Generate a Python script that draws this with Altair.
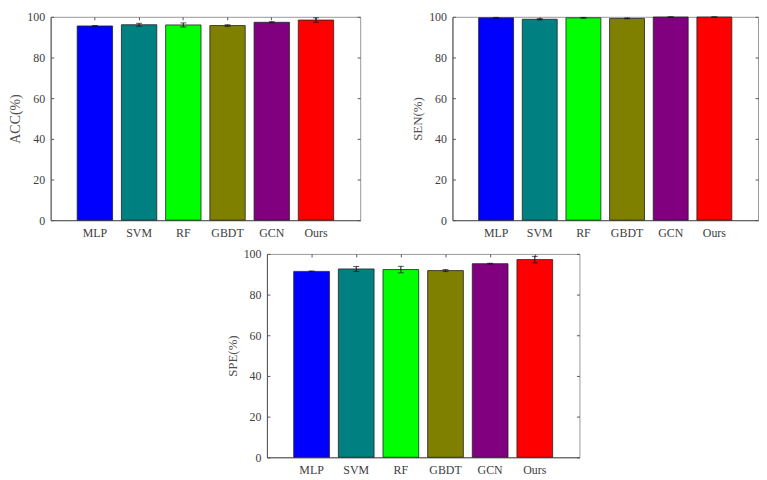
import altair as alt
import pandas as pd

methods = ["MLP", "SVM", "RF", "GBDT", "GCN", "Ours"]
colors = ["#0000FF", "#008080", "#00FF00", "#808000", "#800080", "#FF0000"]

acc_mean = [95.5, 96.1, 96.0, 95.7, 97.3, 98.4]
acc_err = [0.2, 0.7, 1.0, 0.4, 0.3, 1.1]
sen_mean = [99.5, 98.8, 99.5, 99.2, 99.9, 99.9]
sen_err = [0.2, 0.3, 0.2, 0.2, 0.1, 0.1]
spe_mean = [91.4, 92.6, 92.3, 91.8, 95.2, 97.2]
spe_err = [0.2, 1.2, 1.6, 0.5, 0.2, 1.6]

y_ticks = [0, 20, 40, 60, 80, 100]

FONT = "Liberation Serif"
TEXT = "#404040"
DOM = "#555555"


def panel(mean, err, title, tsize, W, H):
    df = pd.DataFrame({
        "method": methods,
        "v": mean,
        "lo": [m - e for m, e in zip(mean, err)],
        "hi": [m + e for m, e in zip(mean, err)],
    })
    caps = df.melt(id_vars=["method"], value_vars=["lo", "hi"], value_name="c")
    xs = alt.Scale(domain=methods, paddingInner=0.2, paddingOuter=0.6)
    ys = alt.Scale(domain=[0, 100])
    base = alt.Chart(df)
    bars = base.mark_bar(stroke="#222222", strokeWidth=0.8).encode(
        x=alt.X("method:N", sort=methods, scale=xs,
                axis=alt.Axis(orient="bottom", title=None, labelAngle=0, ticks=False,
                              domainColor=DOM, labelPadding=7)),
        y=alt.Y("v:Q", scale=ys,
                axis=alt.Axis(orient="left", title=title, values=y_ticks, ticks=False,
                              grid=False, domainColor=DOM, labelPadding=6, titlePadding=4,
                              titleFontSize=tsize)),
        color=alt.Color("method:N", scale=alt.Scale(domain=methods, range=colors), legend=None),
    )
    rules = base.mark_rule(color="#111111", strokeWidth=1).encode(
        x=alt.X("method:N", sort=methods, scale=xs,
                axis=alt.Axis(orient="bottom", offset=-H, title=None, labels=False,
                              domain=False, tickSize=3, tickColor=DOM)),
        y=alt.Y("lo:Q", scale=ys,
                axis=alt.Axis(orient="right", offset=-W, title=None, labels=False,
                              domain=False, values=y_ticks, tickSize=3, tickColor=DOM, grid=False)),
        y2="hi:Q",
    )
    capl = alt.Chart(caps).mark_tick(color="#111111", thickness=1, size=6).encode(
        x=alt.X("method:N", sort=methods, scale=xs,
                axis=alt.Axis(orient="top", offset=-H, title=None, labels=False,
                              domain=False, tickSize=3, tickColor=DOM)),
        y=alt.Y("c:Q", scale=ys,
                axis=alt.Axis(orient="left", offset=-W, title=None, labels=False,
                              domain=False, values=y_ticks, tickSize=3, tickColor=DOM, grid=False)),
    )
    return alt.layer(bars, rules, capl).resolve_axis(x="independent", y="independent").properties(
        width=W, height=H)


p1 = panel(acc_mean, acc_err, "ACC(%)", 14, 312, 205)
p2 = panel(sen_mean, sen_err, "SEN(%)", 13, 308, 205)
p3 = panel(spe_mean, spe_err, "SPE(%)", 13, 315, 205)

spacer = alt.Chart(pd.DataFrame({"a": [0]})).mark_point(opacity=0, size=1).encode(
    x=alt.value(0), y=alt.value(0)
).properties(width=176, height=10, view=alt.ViewBackground(strokeOpacity=0))

chart = alt.vconcat(
    alt.hconcat(p1, p2, spacing=50),
    alt.hconcat(spacer, p3, spacing=0),
    spacing=8,
).properties(padding=0, background="white").configure_view(
    stroke="#999999", strokeWidth=1
).configure_axis(
    labelFont=FONT, titleFont=FONT, labelColor=TEXT, titleColor="#505050",
    labelFontSize=12, titleFontWeight="normal",
)

chart.save("out.html", embed_options={"renderer": "svg", "actions": False})
